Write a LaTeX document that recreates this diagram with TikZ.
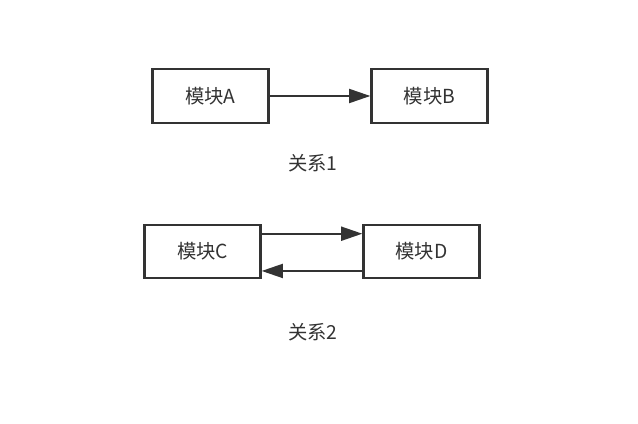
\documentclass[tikz,border=0pt]{standalone}
\usepackage{fontspec}
\newfontfamily\cjk{Noto Sans CJK SC}
\usepackage{tikz}
\usetikzlibrary{calc,arrows.meta}
\definecolor{inkgray}{HTML}{333333}

\begin{document}
\begin{tikzpicture}[x=.75pt,y=-.75pt,
    block/.style={draw=inkgray,line width=1.7pt,minimum width=87pt,minimum height=40pt,inner sep=0pt,font=\cjk\fontsize{14.5}{16}\selectfont,text=inkgray},
    caption/.style={font=\cjk\fontsize{14.5}{16}\selectfont,text=inkgray},
    link/.style={draw=inkgray,line width=1.6pt,-{Triangle[length=16pt,width=10.5pt]}}]
        \useasboundingbox (0, 0) rectangle (638, 424);
        \node[block] (blockA) at (210.5, 96) {模块A};
        \node[block] (blockB) at (429.5, 96) {模块B};
        \node[caption] (rel1) at (313, 163) {关系1};
        \node[block] (blockC) at (202.5, 251.5) {模块C};
        \node[block] (blockD) at (421.5, 251.5) {模块D};
        \node[caption] (rel2) at (313, 332) {关系2};
        \draw[link] (blockA) -- (blockB);
        \draw[link] ($(blockC.north east)!.18!(blockC.south east)$) -- ($(blockD.north west)!.18!(blockD.south west)$);
        \draw[link] ($(blockD.north west)!.85!(blockD.south west)$) -- ($(blockC.north east)!.85!(blockC.south east)$);
    \end{tikzpicture}
\end{document}
